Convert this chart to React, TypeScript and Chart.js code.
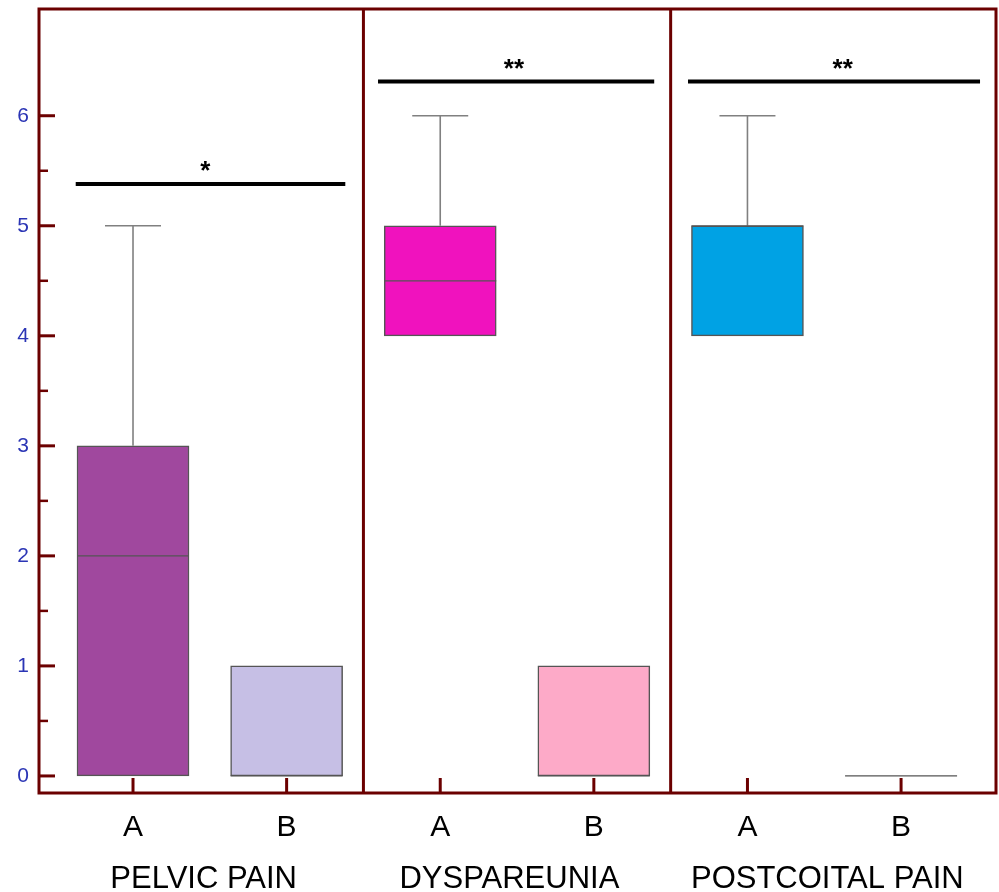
import React, { useEffect, useRef } from "react";
import { Chart, registerables } from "chart.js";

Chart.register(...registerables);

// ---- data ----
const groupNames = ["PELVIC PAIN", "DYSPAREUNIA", "POSTCOITAL PAIN"];
const categoryLabels = ["A", "B", "A", "B", "A", "B"];
const positions = [0, 1, 2, 3, 4, 5];
const whiskerMin = [0, 0, 4, 0, 4, 0];
const quartile1 = [0, 0, 4, 0, 4, 0];
const medians = [2, 0, 4.5, 0, 5, 0];
const quartile3 = [3, 1, 5, 1, 5, 0];
const whiskerMax = [5, 1, 6, 1, 6, 0];
const boxColors = ["#a0489e", "#c6bfe5", "#f012be", "#fdaac8", "#00a2e4", "#ffffff"];

const sigLevels = [5.38, 6.31, 6.31];
const sigStarts = [-0.373, 1.595, 3.613];
const sigEnds = [1.382, 3.393, 5.514];
const sigMarks = ["*", "**", "**"];
const sigMarkX = [0.47, 2.48, 4.62];
const groupLabelX = [0.46, 2.45, 4.52];
const groupBounds = [1.5, 3.5];

const yMajorTicks = [0, 1, 2, 3, 4, 5, 6];
const yMinorTicks = [0.5, 1.5, 2.5, 3.5, 4.5, 5.5];

const FRAME = "#6b0000";
const FONT = "'Liberation Sans', Arial, sans-serif";

const drawPlugin = {
  id: "boxExtras",
  afterDatasetsDraw(chart: any) {
    const ctx = chart.ctx;
    const xs = chart.scales.x;
    const ys = chart.scales.y;
    const boxW = 112;
    ctx.save();
    // whiskers
    ctx.strokeStyle = "#808080";
    ctx.lineWidth = 1.6;
    positions.forEach((p, i) => {
      const cx = xs.getPixelForValue(p);
      if (whiskerMax[i] > quartile3[i]) {
        const y1 = ys.getPixelForValue(quartile3[i]);
        const y2 = ys.getPixelForValue(whiskerMax[i]);
        ctx.beginPath();
        ctx.moveTo(cx, y1);
        ctx.lineTo(cx, y2);
        ctx.moveTo(cx - boxW / 4, y2);
        ctx.lineTo(cx + boxW / 4, y2);
        ctx.stroke();
      }
      if (whiskerMin[i] < quartile1[i]) {
        const y1 = ys.getPixelForValue(quartile1[i]);
        const y2 = ys.getPixelForValue(whiskerMin[i]);
        ctx.beginPath();
        ctx.moveTo(cx, y1);
        ctx.lineTo(cx, y2);
        ctx.moveTo(cx - boxW / 4, y2);
        ctx.lineTo(cx + boxW / 4, y2);
        ctx.stroke();
      }
    });
    // medians
    ctx.strokeStyle = "#555555";
    ctx.lineWidth = 1.2;
    positions.forEach((p, i) => {
      const cx = xs.getPixelForValue(p);
      const y = ys.getPixelForValue(medians[i]);
      ctx.beginPath();
      ctx.moveTo(cx - boxW / 2, y);
      ctx.lineTo(cx + boxW / 2, y);
      ctx.stroke();
    });
    ctx.restore();
  },
  afterDraw(chart: any) {
    const ctx = chart.ctx;
    const xs = chart.scales.x;
    const ys = chart.scales.y;
    const a = chart.chartArea;
    ctx.save();
    // frame
    ctx.strokeStyle = FRAME;
    ctx.lineWidth = 3;
    ctx.strokeRect(a.left, a.top, a.right - a.left, a.bottom - a.top);
    groupBounds.forEach((g) => {
      const x = xs.getPixelForValue(g);
      ctx.beginPath();
      ctx.moveTo(x, a.top);
      ctx.lineTo(x, a.bottom);
      ctx.stroke();
    });
    // y ticks inside
    yMajorTicks.forEach((v) => {
      const y = ys.getPixelForValue(v);
      ctx.lineWidth = 3;
      ctx.beginPath();
      ctx.moveTo(a.left, y);
      ctx.lineTo(a.left + 16, y);
      ctx.stroke();
    });
    yMinorTicks.forEach((v) => {
      const y = ys.getPixelForValue(v);
      ctx.lineWidth = 2.5;
      ctx.beginPath();
      ctx.moveTo(a.left, y);
      ctx.lineTo(a.left + 9, y);
      ctx.stroke();
    });
    // x ticks inside
    positions.forEach((p) => {
      const x = xs.getPixelForValue(p);
      ctx.lineWidth = 3;
      ctx.beginPath();
      ctx.moveTo(x, a.bottom);
      ctx.lineTo(x, a.bottom - 15);
      ctx.stroke();
    });
    // significance bars
    ctx.strokeStyle = "#000000";
    ctx.lineWidth = 4;
    ctx.fillStyle = "#000000";
    ctx.font = `bold 26px ${FONT}`;
    ctx.textAlign = "center";
    ctx.textBaseline = "alphabetic";
    sigLevels.forEach((lv, i) => {
      const y = ys.getPixelForValue(lv);
      ctx.beginPath();
      ctx.moveTo(xs.getPixelForValue(sigStarts[i]), y);
      ctx.lineTo(xs.getPixelForValue(sigEnds[i]), y);
      ctx.stroke();
      ctx.fillText(sigMarks[i], xs.getPixelForValue(sigMarkX[i]), y - 5);
    });
    // group labels
    ctx.font = `31px ${FONT}`;
    ctx.fillStyle = "#000000";
    groupNames.forEach((n, i) => {
      ctx.fillText(n, xs.getPixelForValue(groupLabelX[i]), 888);
    });
    ctx.restore();
  },
};

export default function App() {
  const ref = useRef<HTMLCanvasElement | null>(null);
  useEffect(() => {
    if (!ref.current) return;
    const chart = new Chart(ref.current, {
      type: "bar",
      data: {
        datasets: [
          {
            data: positions.map((p, i) => ({ x: p, y: [quartile1[i], quartile3[i]] })) as any,
            backgroundColor: boxColors,
            borderColor: "#555555",
            borderWidth: 1.5,
            borderSkipped: false,
            barThickness: 112,
          },
        ],
      },
      options: {
        animation: false,
        responsive: false,
        devicePixelRatio: 1,
        layout: { padding: { left: 0, top: 9, right: 3, bottom: 0 } },
        plugins: { legend: { display: false }, tooltip: { enabled: false } },
        scales: {
          x: {
            type: "linear",
            offset: false,
            min: -0.612,
            max: 5.618,
            grid: { display: false, drawTicks: false, offset: false },
            border: { display: false },
            afterBuildTicks: (s: any) => {
              s.ticks = positions.map((v) => ({ value: v }));
            },
            afterFit: (s: any) => {
              s.height = 99;
              s.paddingLeft = 0;
              s.paddingRight = 0;
            },
            ticks: {
              padding: 17,
              color: "#000000",
              font: { family: FONT, size: 30 },
              maxRotation: 0,
              autoSkip: false,
              callback: (v: any) => categoryLabels[positions.indexOf(Number(v))] ?? "",
            },
          },
          y: {
            type: "linear",
            min: -0.155,
            max: 6.97,
            grid: { display: false, drawTicks: false },
            border: { display: false },
            afterBuildTicks: (s: any) => {
              s.ticks = yMajorTicks.map((v) => ({ value: v }));
            },
            afterFit: (s: any) => {
              s.width = 39;
              s.paddingTop = 0;
              s.paddingBottom = 0;
            },
            ticks: {
              padding: 10,
              color: "#2b35b5",
              font: { family: FONT, size: 21 },
              callback: (v: any) => String(v),
            },
          },
        },
      },
      plugins: [drawPlugin],
    });
    return () => chart.destroy();
  }, []);
  return (
    <div style={{ position: "fixed", left: 0, top: 0, width: 999, height: 892, background: "#ffffff" }}>
      <canvas ref={ref} width={999} height={892} style={{ width: 999, height: 892 }} />
    </div>
  );
}
